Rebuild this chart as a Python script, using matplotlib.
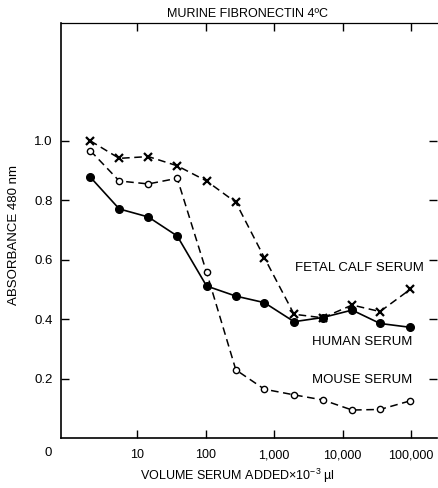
import matplotlib.pyplot as plt
import matplotlib.ticker as mticker

plt.rcParams['font.family'] = ['Liberation Sans', 'DejaVu Sans']
plt.rcParams['mathtext.fontset'] = 'custom'
plt.rcParams['mathtext.rm'] = 'Liberation Sans'
plt.rcParams['mathtext.it'] = 'Liberation Sans:italic'

# volume of serum added (x 10^-3 ul)
volume = [2.06, 5.46, 14.5, 38.4, 103, 276, 721, 1956, 5140, 13800, 35300, 98000]

# absorbance at 480 nm
human = [0.877, 0.770, 0.743, 0.679, 0.511, 0.477, 0.455, 0.391, 0.405, 0.430, 0.385, 0.372]
fetal_calf = [0.999, 0.940, 0.946, 0.915, 0.864, 0.792, 0.606, 0.416, 0.404, 0.447, 0.425, 0.500]
mouse = [0.966, 0.864, 0.854, 0.873, 0.557, 0.229, 0.164, 0.145, 0.128, 0.094, 0.096, 0.125]

xticks = [10, 100, 1000, 10000, 100000]
xticklabels = ['10', '100', '1,000', '10,000', '100,000']
yticks = [0.2, 0.4, 0.6, 0.8, 1.0]

fig = plt.figure(figsize=(4.39, 4.88), dpi=100)
ax = fig.add_axes([61 / 439, 50 / 488, 376 / 439, 415 / 488])

ax.plot(volume, human, color='black', lw=1.2, marker='o', ms=5.5,
        mfc='black', mec='black')
ax.plot(volume, fetal_calf, color='black', lw=1.1, dashes=(5, 3),
        marker='x', ms=5.5, mew=1.6, mec='black')
ax.plot(volume, mouse, color='black', lw=1.1, dashes=(5, 3),
        marker='o', ms=4.5, mfc='white', mec='black', mew=1)

ax.set_xscale('log')
ax.set_xlim(0.769, 240000)
ax.set_ylim(0, 1.395)

ax.xaxis.set_major_locator(mticker.FixedLocator(xticks))
ax.xaxis.set_minor_locator(mticker.NullLocator())
ax.set_xticks(xticks, xticklabels)
ax.set_yticks(yticks, [f'{v:.1f}' for v in yticks])

ax.tick_params(axis='x', direction='in', length=6, width=1, labelsize=9,
               pad=8, top=True)
ax.tick_params(axis='y', direction='in', length=6, width=1, labelsize=9.5,
               pad=6, right=True)

ax.spines['right'].set_visible(False)
ax.spines['left'].set_linewidth(1.2)
ax.spines['bottom'].set_linewidth(1.2)
ax.spines['top'].set_linewidth(0.9)

ax.text(-0.034, -0.036, '0', transform=ax.transAxes, ha='center',
        va='center', fontsize=9.5)

ax.text(155000, 0.571, 'FETAL CALF SERUM', ha='right', va='center', fontsize=9.5)
ax.text(106000, 0.324, 'HUMAN SERUM', ha='right', va='center', fontsize=9.5)
ax.text(106000, 0.195, 'MOUSE SERUM', ha='right', va='center', fontsize=9.5)

ax.set_title('MURINE FIBRONECTIN 4ºC', fontsize=9, x=0.495, pad=4)
ax.set_ylabel('ABSORBANCE 480 nm', fontsize=9.5)
ax.yaxis.set_label_coords(-0.108, 0.49)
ax.set_xlabel(r'VOLUME SERUM ADDED$\times$10$^{-3}$ µl', fontsize=9)
ax.xaxis.set_label_coords(0.4685, -0.092)
ax.xaxis.label.set_va('center')

fig.savefig('out.png', dpi=100)
